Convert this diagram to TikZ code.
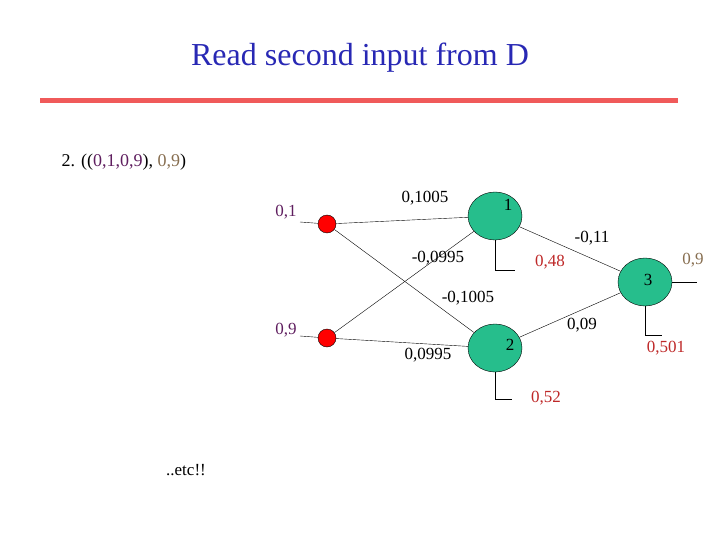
\documentclass[tikz,border=0pt]{standalone}
\usepackage{fontspec}
\setmainfont{Liberation Serif}
\usetikzlibrary{calc}
\definecolor{nodegreen}{RGB}{38,190,140}
\definecolor{inpurple}{RGB}{95,30,95}
\definecolor{outtan}{RGB}{135,110,80}
\definecolor{biasred}{RGB}{190,40,40}
\definecolor{titleblue}{RGB}{40,40,180}
\definecolor{barred}{RGB}{240,90,90}
\tikzset{
  unit/.style = {draw, fill = nodegreen, ellipse, minimum width = 54pt, minimum height = 48pt, inner sep = 0pt},
  input/.style = {draw, fill = red, circle, minimum size = 18pt, inner sep = 0pt},
  wt/.style = {font = \fontsize{17}{17}\selectfont},
  bias/.style = {font = \fontsize{17}{17}\selectfont, text = biasred}
}
\usetikzlibrary{shapes.geometric}
\begin{document}
\begin{tikzpicture}[x = 1pt, y = -1pt]
\useasboundingbox (0, 0) rectangle (720, 540);
%\draw[very thin, color = gray](0, 0) grid (720, 540);
\node at (360, 58) [text = titleblue, font = \fontsize{32}{32}\selectfont] {Read second input from D};
\draw [line width = 5pt, color = barred] (40, 101) -- (678, 101);
\node at (58, 162) [right, font = \fontsize{18}{18}\selectfont] {2. ((\textcolor{inpurple}{0,1,0,9}), \textcolor{outtan}{0,9})};
% units
\node (i1) at (327, 224) [input] {};
\node (i2) at (327, 338) [input] {};
\node (n1) at (495, 216) [unit] {};
\node (n2) at (495, 348) [unit] {};
\node (n3) at (645, 282) [unit] {};
\node at (508, 205) [wt] {1};
\node at (510, 345) [wt] {2};
\node at (648, 280) [wt] {3};
% inputs and output
\coordinate (a1) at (300, 222);
\coordinate (a2) at (300, 336);
\coordinate (o3) at (697, 282);
\draw (a1) -- (i1);
\draw (a2) -- (i2);
\draw (n3) -- (o3);
% weights
\draw (i1) -- (n1);
\draw (i1) -- (n2);
\draw (i2) -- (n1);
\draw (i2) -- (n2);
\draw (n1) -- (n3);
\draw (n2) -- (n3);
% biases
\draw (n1.south) -- ++(0, 30) -- ++(20, 0);
\draw (n2.south) -- ++(0, 27) -- ++(17, 0);
\draw (n3.south) -- ++(0, 29) -- ++(17, 0);
\node at (286, 212) [wt, text = inpurple] {0,1};
\node at (286, 330) [wt, text = inpurple] {0,9};
\node at (693, 260) [wt, text = outtan] {0,9};
\node at (425, 198) [wt] {0,1005};
\node at (438, 258) [wt] {-0,0995};
\node at (468, 298) [wt] {-0,1005};
\node at (428, 355) [wt] {0,0995};
\node at (592, 238) [wt] {-0,11};
\node at (582, 325) [wt] {0,09};
\node at (550, 262) [bias] {0,48};
\node at (546, 398) [bias] {0,52};
\node at (666, 348) [bias] {0,501};
\node at (186, 470) [wt] {..etc!!};
\end{tikzpicture}
\end{document}
